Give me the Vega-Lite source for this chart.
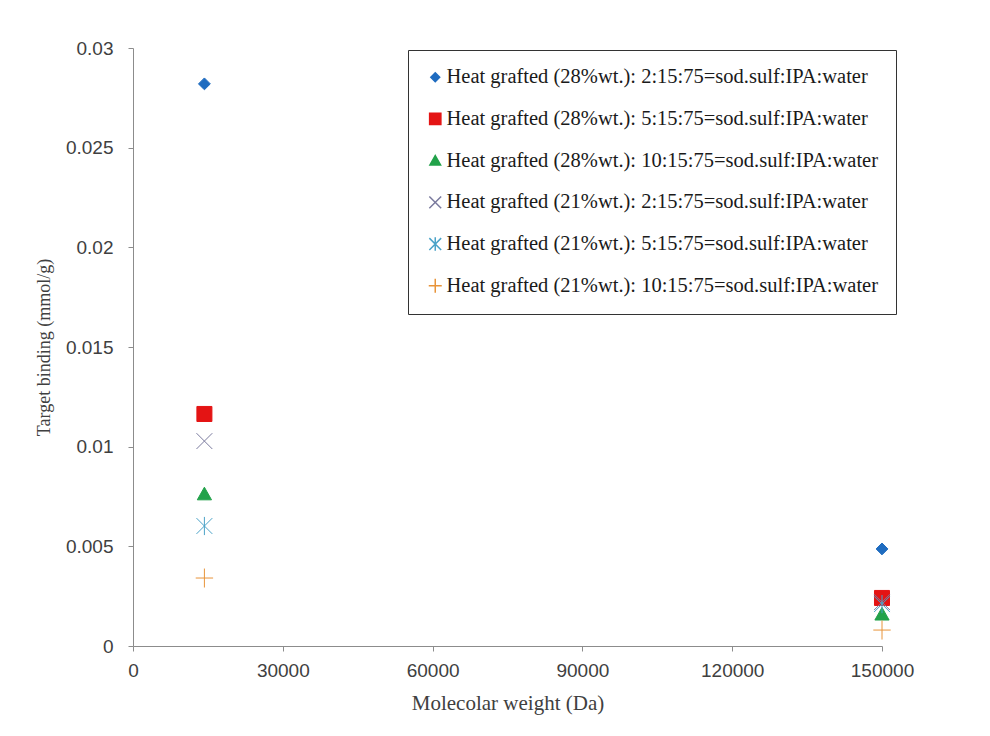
{
  "$schema": "https://vega.github.io/schema/vega-lite/v6.json",
  "autosize": {"type": "none"},
  "padding": {"left": 133, "top": 48, "right": 108, "bottom": 90},
  "width": 749,
  "height": 598,
  "background": "white",
  "config": {"view": {"stroke": null}},
  "data": {"values": [
    {"mw": 14300, "binding": 0.0282, "series": "Heat grafted (28%wt.): 2:15:75=sod.sulf:IPA:water"},
    {"mw": 14300, "binding": 0.01164, "series": "Heat grafted (28%wt.): 5:15:75=sod.sulf:IPA:water"},
    {"mw": 14300, "binding": 0.00763, "series": "Heat grafted (28%wt.): 10:15:75=sod.sulf:IPA:water"},
    {"mw": 14300, "binding": 0.01028, "series": "Heat grafted (21%wt.): 2:15:75=sod.sulf:IPA:water"},
    {"mw": 14300, "binding": 0.00602, "series": "Heat grafted (21%wt.): 5:15:75=sod.sulf:IPA:water"},
    {"mw": 14300, "binding": 0.00341, "series": "Heat grafted (21%wt.): 10:15:75=sod.sulf:IPA:water"},
    {"mw": 150000, "binding": 0.00487, "series": "Heat grafted (28%wt.): 2:15:75=sod.sulf:IPA:water"},
    {"mw": 150000, "binding": 0.00241, "series": "Heat grafted (28%wt.): 5:15:75=sod.sulf:IPA:water"},
    {"mw": 150000, "binding": 0.0016, "series": "Heat grafted (28%wt.): 10:15:75=sod.sulf:IPA:water"},
    {"mw": 150000, "binding": 0.0022, "series": "Heat grafted (21%wt.): 2:15:75=sod.sulf:IPA:water"},
    {"mw": 150000, "binding": 0.0021, "series": "Heat grafted (21%wt.): 5:15:75=sod.sulf:IPA:water"},
    {"mw": 150000, "binding": 0.0008, "series": "Heat grafted (21%wt.): 10:15:75=sod.sulf:IPA:water"}
  ]},
  "mark": {"type": "point", "size": 250, "strokeWidth": 1, "opacity": 1},
  "encoding": {
    "x": {
      "field": "mw", "type": "quantitative",
      "scale": {"domain": [0, 150000], "nice": false, "zero": true},
      "axis": {
        "title": "Molecolar weight (Da)", "values": [0, 30000, 60000, 90000, 120000, 150000],
        "format": "d", "grid": false, "labelFlush": false, "domainColor": "#8c8c8c", "tickColor": "#8c8c8c", "tickSize": 5,
        "labelFont": "Liberation Sans", "labelFontSize": 19, "labelColor": "#404040", "labelPadding": 10,
        "titleFont": "Liberation Serif", "titleFontSize": 21, "titleFontWeight": "normal", "titleColor": "#404040", "titlePadding": 12
      }
    },
    "y": {
      "field": "binding", "type": "quantitative",
      "scale": {"domain": [0, 0.03], "nice": false},
      "axis": {
        "title": "Target binding (mmol/g)", "values": [0, 0.005, 0.01, 0.015, 0.02, 0.025, 0.03],
        "format": ".3~f", "grid": false, "labelFlush": false, "domainColor": "#8c8c8c", "tickColor": "#8c8c8c", "tickSize": 5,
        "labelFont": "Liberation Sans", "labelFontSize": 19, "labelColor": "#404040", "labelPadding": 15,
        "titleFont": "Liberation Serif", "titleFontSize": 18, "titleFontWeight": "normal", "titleColor": "#404040", "titlePadding": 12
      }
    },
    "shape": {
      "field": "series", "type": "nominal",
      "scale": {
        "domain": [
          "Heat grafted (28%wt.): 2:15:75=sod.sulf:IPA:water",
          "Heat grafted (28%wt.): 5:15:75=sod.sulf:IPA:water",
          "Heat grafted (28%wt.): 10:15:75=sod.sulf:IPA:water",
          "Heat grafted (21%wt.): 2:15:75=sod.sulf:IPA:water",
          "Heat grafted (21%wt.): 5:15:75=sod.sulf:IPA:water",
          "Heat grafted (21%wt.): 10:15:75=sod.sulf:IPA:water"
        ],
        "range": [
          "M0,-0.75L0.75,0L0,0.75L-0.75,0Z",
          "M-0.95,-0.95H0.95V0.95H-0.95Z",
          "M0,-0.85L0.9,0.75L-0.9,0.75Z",
          "M-1,-1L1,1M1,-1L-1,1",
          "M-1,-1L1,1M1,-1L-1,1M0,-1.15L0,1.15",
          "M-1.1,0L1.1,0M0,-1.2L0,1.2"
        ]
      },
      "legend": {
        "title": null, "orient": "none", "legendX": 275, "legendY": 2,
        "strokeColor": "#333333", "padding": 17, "rowPadding": 20.7,
        "labelFont": "Liberation Serif", "labelFontSize": 20.5, "labelColor": "#1a1a1a", "labelLimit": 600, "labelOffset": 1,
        "symbolSize": 140, "fillColor": "white"
      }
    },
    "fill": {
      "field": "series", "type": "nominal",
      "scale": {
        "domain": [
          "Heat grafted (28%wt.): 2:15:75=sod.sulf:IPA:water",
          "Heat grafted (28%wt.): 5:15:75=sod.sulf:IPA:water",
          "Heat grafted (28%wt.): 10:15:75=sod.sulf:IPA:water",
          "Heat grafted (21%wt.): 2:15:75=sod.sulf:IPA:water",
          "Heat grafted (21%wt.): 5:15:75=sod.sulf:IPA:water",
          "Heat grafted (21%wt.): 10:15:75=sod.sulf:IPA:water"
        ],
        "range": ["#1f6cc0", "#e41414", "#22a24a", "transparent", "transparent", "transparent"]
      }
    },
    "stroke": {
      "field": "series", "type": "nominal",
      "scale": {
        "domain": [
          "Heat grafted (28%wt.): 2:15:75=sod.sulf:IPA:water",
          "Heat grafted (28%wt.): 5:15:75=sod.sulf:IPA:water",
          "Heat grafted (28%wt.): 10:15:75=sod.sulf:IPA:water",
          "Heat grafted (21%wt.): 2:15:75=sod.sulf:IPA:water",
          "Heat grafted (21%wt.): 5:15:75=sod.sulf:IPA:water",
          "Heat grafted (21%wt.): 10:15:75=sod.sulf:IPA:water"
        ],
        "range": ["#1f6cc0", "#e41414", "#22a24a", "#7a7a9e", "#4ba3c8", "#e8943a"]
      }
    }
  }
}
